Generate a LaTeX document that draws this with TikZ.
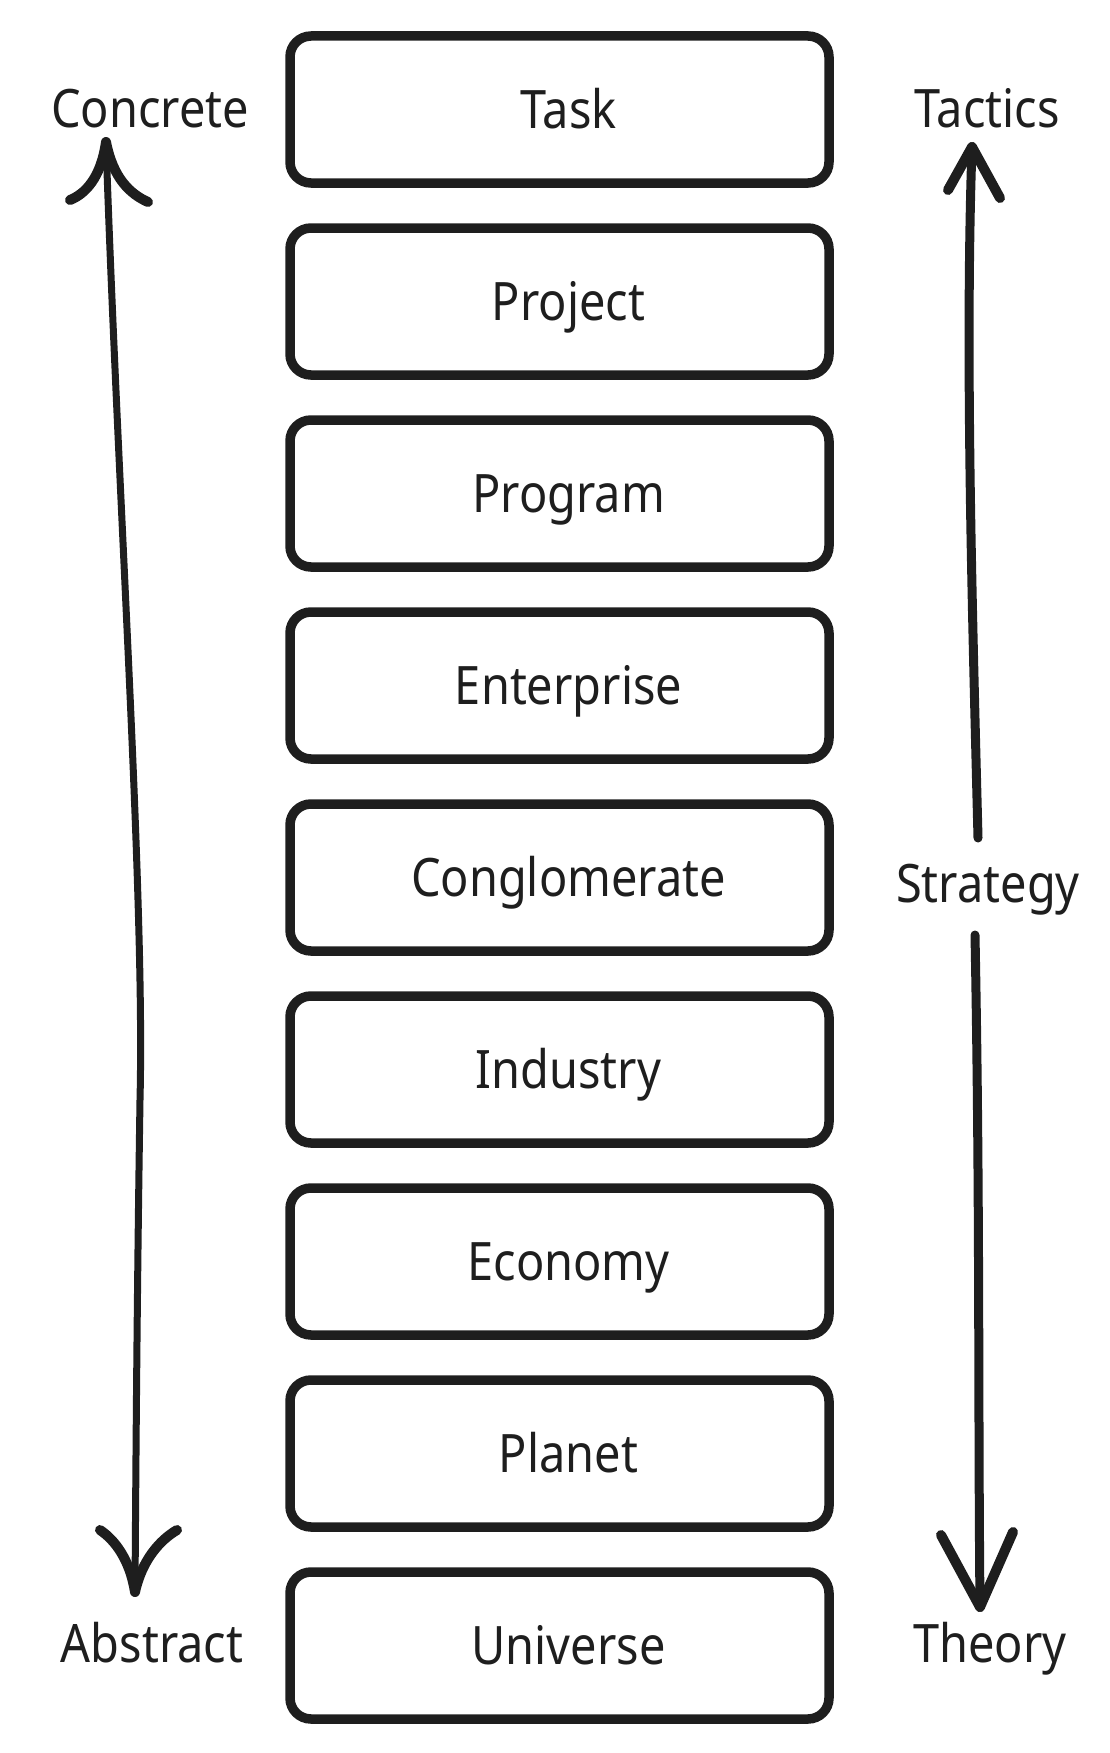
\documentclass[tikz,border=0pt]{standalone}
\usepackage{fontspec}
\setmainfont[FakeStretch=0.885]{Noto Sans}
\definecolor{ink}{HTML}{1E1E1E}
\begin{document}
\begin{tikzpicture}[x=1pt,y=-1pt,
  lbl/.style={text=ink,inner sep=0pt,text height=38pt,text depth=0pt,font=\fontsize{53}{60}\selectfont},
  box/.style={lbl,draw=ink,line width=9.5pt,rounded corners=21pt,minimum width=539pt,minimum height=147pt},
  shaft/.style={draw=ink,line width=7pt,line cap=round,line join=round},
  barb/.style={draw=ink,line width=10pt,line cap=round,line join=round}]
\useasboundingbox (0,0) rectangle (1109,1753);
\foreach \n/\t [count=\i from 0] in {task/Task,project/Project,program/Program,enterprise/Enterprise,conglomerate/Conglomerate,industry/Industry,economy/Economy,planet/Planet,universe/Universe}
  \node[box] (\n) at (559.5,109.5+192*\i) {\hspace*{18pt}\t};
\node[lbl] (concrete) at (150,108.5) {Concrete};
\node[lbl] (abstract) at (152,1643) {Abstract};
\node[lbl] (tactics) at (987,108) {Tactics};
\node[lbl] (strategy) at (988,883.5) {Strategy};
\node[lbl] (theory) at (990,1643.5) {Theory};
% left double arrow
\coordinate (ltop) at (106,142);
\coordinate (lbot) at (135,1592);
\draw[shaft] (ltop) .. controls (118,500) and (145,900) .. (140,1100) .. controls (137,1300) and (136,1450) .. (lbot);
\draw[barb] (ltop) .. controls (101,178) and (85,194) .. (70,200);
\draw[barb] (ltop) .. controls (113,178) and (130,194) .. (148,202);
\draw[barb] (lbot) .. controls (130,1560) and (115,1540) .. (100,1530);
\draw[barb] (lbot) .. controls (142,1560) and (160,1540) .. (177,1530);
% right upper arrow
\coordinate (rtop) at (972,147);
\coordinate (rs1) at (978,838);
\draw[shaft,line width=9pt] (rs1) .. controls (972,600) and (965,350) .. (rtop);
\draw[barb] (rtop) -- (948,190);
\draw[barb] (rtop) -- (1000,198);
% right lower arrow
\coordinate (rs2) at (975,935);
\coordinate (rbot) at (980,1607);
\draw[shaft,line width=9pt] (rs2) .. controls (980,1200) and (978,1400) .. (rbot);
\draw[barb] (rbot) -- (941,1535);
\draw[barb] (rbot) -- (1013,1532);
\end{tikzpicture}
\end{document}
